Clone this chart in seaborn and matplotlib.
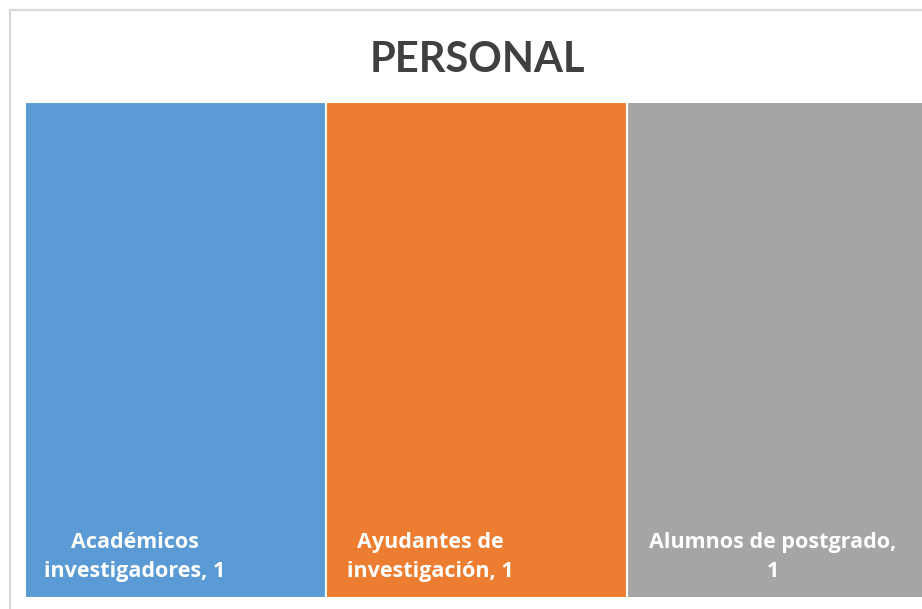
import matplotlib
matplotlib.use("Agg")
import matplotlib.pyplot as plt
import seaborn as sns
import pandas as pd
from matplotlib.patches import Rectangle

# ====== data ======
categorias = ["Académicos investigadores", "Ayudantes de investigación", "Alumnos de postgrado"]
valores = [1, 1, 1]
etiquetas = ["Académicos\ninvestigadores, 1", "Ayudantes de\ninvestigación, 1", "Alumnos de postgrado,\n1"]
colores = ["#5B9BD5", "#ED7D31", "#A5A5A5"]

df = pd.DataFrame({"categoria": categorias, "valor": valores})

sns.set_style("white")
plt.rcParams['font.family'] = ['Lato', 'DejaVu Sans']

fig = plt.figure(figsize=(9.22, 6.09), dpi=100)
W, H = 922, 609

# chart frame (light gray), cropped on the right and bottom
fig.patches.append(Rectangle((10 / W, -0.05), 1.1, 1 - 10 / H + 0.05,
                             transform=fig.transFigure, fill=False,
                             edgecolor="#d9d9d9", linewidth=1.6, zorder=0))

# treemap area: three equal tiles
ax = fig.add_axes([25 / W, (H - 598) / H, 903 / W, (598 - 102) / H])
sns.barplot(data=df, x="categoria", y="valor", hue="categoria",
            palette=colores, saturation=1, width=1.0, edgecolor="white",
            linewidth=1.5, legend=False, ax=ax)
ax.set_xlim(-0.5, len(categorias) - 0.5)
ax.set_ylim(0, max(valores))
ax.set_axis_off()

# labels near the bottom of each tile
offsets = [-0.135, -0.155, -0.015]
for i, (lab, off) in enumerate(zip(etiquetas, offsets)):
    ax.text(i + off, 0.083, lab, ha="center", va="center", color="white",
            fontsize=15.5, fontweight="bold", linespacing=1.5,
            family=['Open Sans', 'DejaVu Sans'])

fig.text(477 / W, 1 - 60 / H, "PERSONAL", ha="center", va="center",
         fontsize=30, fontweight="bold", color="#404040")

plt.savefig("out.png", dpi=100)
